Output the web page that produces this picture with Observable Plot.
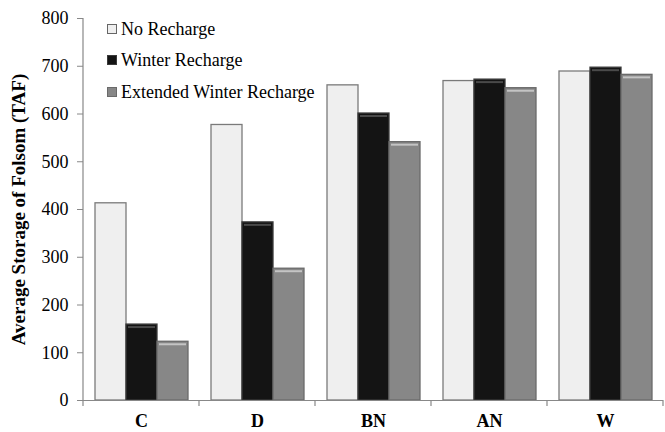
<!DOCTYPE html>
<html>
<head>
<meta charset="utf-8">
<script src="https://cdn.jsdelivr.net/npm/d3@7"></script>
<script src="https://cdn.jsdelivr.net/npm/@observablehq/plot@0.6"></script>
<style>
  body { margin: 0; background: #fff; }
  #wrap { position: relative; width: 665px; height: 432px; }
  #wrap svg text { font-family: "Liberation Serif", "Times New Roman", serif !important; font-variant-numeric: normal !important; }
  #legend { position: absolute; left: 107px; top: 13px; font-family: "Liberation Serif", "Times New Roman", serif; font-size: 18px; color: #000; }
  #legend .row { height: 31.5px; line-height: 24px; white-space: nowrap; display: flex; align-items: center; }
  #legend .sw { width: 8px; height: 8px; margin-right: 4px; box-sizing: content-box; }
</style>
</head>
<body>
<div id="wrap"><div id="legend"></div></div>
<script>
const categories = ["C", "D", "BN", "AN", "W"];
const series = ["No Recharge", "Winter Recharge", "Extended Winter Recharge"];
const noRecharge = [413, 577, 660, 669, 689];
const winterRecharge = [159, 373, 601, 672, 697];
const extendedRecharge = [123, 276, 541, 654, 682];
const yTicks = [0, 100, 200, 300, 400, 500, 600, 700, 800];
const yLabel = "Average Storage of Folsom (TAF)";

const fills = ["#efefef", "#141414", "#878787"];
const strokes = ["#7a7a7a", "#3a3a3a", "#6a6a6a"];
const bevels = [null, "#4a4a4a", "#c4c4c4"];

const valuesBySeries = [noRecharge, winterRecharge, extendedRecharge];
const data = categories.flatMap((c, i) =>
  series.map((s, j) => ({category: c, series: s, value: valuesBySeries[j][i]}))
);

const serif = "'Liberation Serif', 'Times New Roman', serif";
const marks = [];
series.forEach((s, j) => {
  const sub = data.filter(d => d.series === s);
  marks.push(Plot.barY(sub, {fx: "category", x: "series", y: "value", fill: fills[j], stroke: strokes[j], strokeWidth: 1.3}));
  if (bevels[j]) {
    marks.push(Plot.tickY(sub, {fx: "category", x: "series", y: "value", stroke: bevels[j], strokeWidth: 2, dy: 2.5, inset: 2}));
  }
});
marks.push(Plot.ruleY([0], {stroke: "#888", strokeWidth: 1.2}));
marks.push(Plot.axisY({ticks: yTicks, tickSize: 6, tickPadding: 9, stroke: "#888", fontSize: 18, fontFamily: serif, label: null, tickFormat: d => String(d)}));
marks.push(Plot.axisFx({anchor: "bottom", tickSize: 0, tickPadding: 14, fontWeight: "bold", fontSize: 18, fontFamily: serif, label: null}));
marks.push(Plot.text([yLabel], {fx: () => categories[0], frameAnchor: "left", rotate: -90, dx: -65, dy: 0, text: d => d, fontWeight: "bold", fontSize: 19, fontFamily: serif, textAnchor: "middle"}));

const plot = Plot.plot({
  width: 665,
  height: 432,
  marginLeft: 83,
  marginRight: 2,
  marginTop: 18,
  marginBottom: 32,
  style: {fontFamily: serif, fontSize: "18px", color: "#000", background: "#fff"},
  fx: {domain: categories, padding: 0, axis: null, label: null},
  x: {domain: series, paddingInner: 0, paddingOuter: 0.33, axis: null},
  y: {domain: [0, 800], axis: null},
  marks
});

document.getElementById("wrap").prepend(plot);

// y-axis line and category boundary ticks from the plot's scales
const fxS = plot.scale("fx");
const yS = plot.scale("y");
const fxPos = c => {
  if (typeof fxS.apply === "function") return fxS.apply(c);
  const n = fxS.domain.length, st = (fxS.range[1] - fxS.range[0]) / n;
  return fxS.range[0] + fxS.domain.indexOf(c) * st;
};
const yPos = v => {
  if (typeof yS.apply === "function") return yS.apply(v);
  const [d0, d1] = yS.domain, [r0, r1] = yS.range;
  return r0 + (v - d0) / (d1 - d0) * (r1 - r0);
};
const step = fxS.bandwidth != null ? fxS.bandwidth : (fxS.range[1] - fxS.range[0]) / fxS.domain.length;
const svg = d3.select(plot);
const g = svg.append("g").attr("stroke", "#888").attr("stroke-width", 1.2);
const x0 = fxPos(categories[0]);
g.append("line").attr("x1", x0).attr("x2", x0).attr("y1", yPos(800)).attr("y2", yPos(0));
const edges = categories.map(c => fxPos(c)).concat([fxPos(categories[categories.length - 1]) + step]);
edges.forEach(x => {
  g.append("line").attr("x1", x).attr("x2", x).attr("y1", yPos(0)).attr("y2", yPos(0) + 6);
});

// legend
const legend = d3.select("#legend");
series.forEach((s, j) => {
  const row = legend.append("div").attr("class", "row");
  row.append("div").attr("class", "sw").style("background", fills[j]).style("border", `1px solid ${j === 0 ? "#666" : strokes[j]}`);
  row.append("span").text(s);
});
</script>
</body>
</html>
